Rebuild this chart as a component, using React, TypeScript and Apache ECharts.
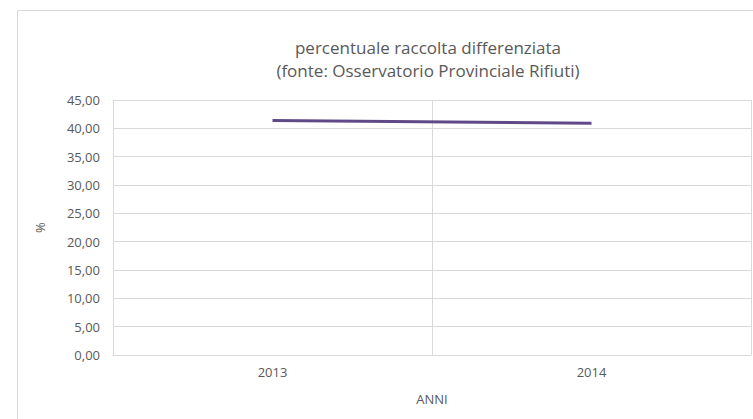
import React, { useEffect, useRef } from "react";
import * as echarts from "echarts";

const categories = ["2013", "2014"];
const values = [41.4, 40.9];
const titleLines = ["percentuale raccolta differenziata", "(fonte: Osservatorio Provinciale Rifiuti)"];
const yAxisName = "%";
const xAxisName = "ANNI";

const FONT = "'Open Sans', sans-serif";
const TEXT = "#595959";
const GRID = "#d9d9d9";

export default function App() {
  const ref = useRef<HTMLDivElement>(null);
  useEffect(() => {
    document.body.style.margin = "0";
    const chart = echarts.init(ref.current!, null, { renderer: "svg" });
    chart.setOption({
      animation: false,
      backgroundColor: "#ffffff",
      textStyle: { fontFamily: FONT },
      title: {
        text: titleLines.join("\n"),
        left: 423,
        top: 31,
        textAlign: "center",
        textStyle: { fontFamily: FONT, fontSize: 17, fontWeight: "normal", color: TEXT, lineHeight: 23 },
      },
      graphic: [
        {
          type: "rect",
          shape: { x: 17.5, y: 10.5, width: 800, height: 500 },
          style: { fill: "none", stroke: GRID, lineWidth: 1 },
          silent: true,
          z: -1,
        },
      ],
      grid: { left: 113, right: 2, top: 100, bottom: 64 },
      xAxis: {
        type: "category",
        data: categories,
        boundaryGap: true,
        name: xAxisName,
        nameLocation: "middle",
        nameGap: 37,
        nameTextStyle: { color: TEXT, fontSize: 13, fontFamily: FONT },
        axisLine: { show: true, lineStyle: { color: GRID } },
        axisTick: { show: false },
        axisLabel: { color: TEXT, fontSize: 13, margin: 10, fontFamily: FONT },
        splitLine: { show: true, interval: 0, lineStyle: { color: GRID } },
      },
      yAxis: {
        type: "value",
        min: 0,
        max: 45,
        interval: 5,
        name: yAxisName,
        nameLocation: "middle",
        nameGap: 67,
        nameRotate: 90,
        nameTextStyle: { color: TEXT, fontSize: 13, fontFamily: FONT },
        axisLine: { show: false },
        axisTick: { show: false },
        axisLabel: {
          color: TEXT,
          fontSize: 13,
          margin: 13,
          fontFamily: FONT,
          formatter: (v: number) => v.toFixed(2).replace(".", ","),
        },
        splitLine: { show: true, lineStyle: { color: GRID } },
      },
      series: [
        {
          type: "line",
          data: values,
          symbol: "none",
          lineStyle: { color: "#5f4a87", width: 3 },
        },
      ],
    });
    return () => chart.dispose();
  }, []);
  return <div ref={ref} style={{ width: 753, height: 419 }} />;
}
